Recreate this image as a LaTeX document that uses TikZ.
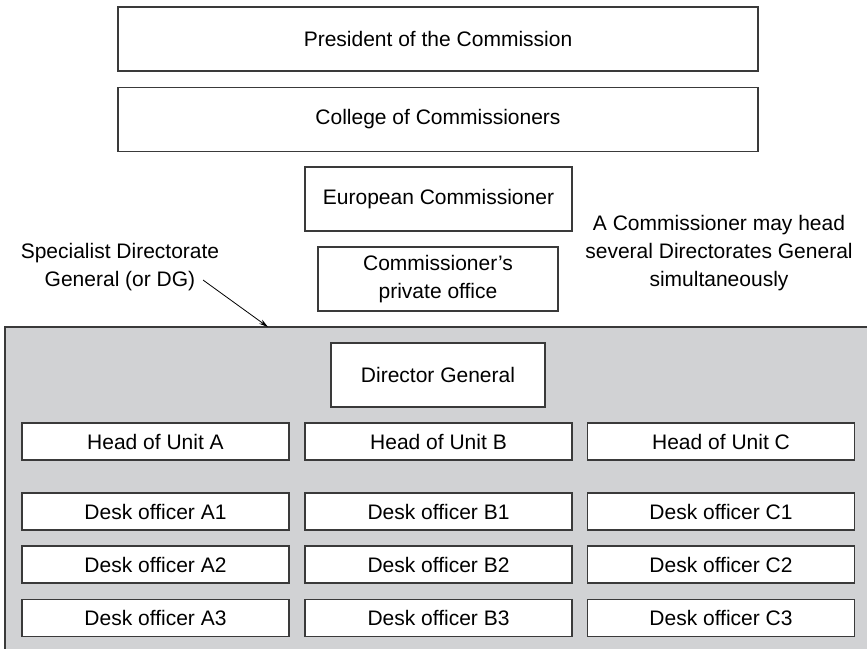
\documentclass[tikz,border=0pt]{standalone}
\usepackage{fontspec}
\setmainfont{Liberation Sans}
\usetikzlibrary{arrows.meta}
\definecolor{dgfill}{HTML}{D1D2D4}
\definecolor{boxline}{HTML}{3A3A3A}
\begin{document}
\begin{tikzpicture}[x=1pt,y=1pt,yscale=-1,xscale=1,
  txt/.style={font=\fontsize{21}{28}\selectfont, align=center, inner sep=0pt},
  box/.style={txt, draw=boxline, line width=1.1pt, fill=white},
  wide/.style={box, minimum width=640pt, minimum height=64pt},
  unit/.style={box, minimum width=267pt, minimum height=37pt}]
\useasboundingbox (0,0) rectangle (867,648);

%Shape: Rectangle [id:dgbox] 
\node [draw=boxline, fill=dgfill, line width=1.1pt, inner sep=0pt, minimum width=865pt, minimum height=325pt] (dgbox) at (437.5,489.5) {};

%Shape: Rectangle [id:pres] 
\node [wide] (pres) at (438,39) {President of the Commission};
%Shape: Rectangle [id:coll] 
\node [wide] (coll) at (438,119.5) {College of Commissioners};
%Shape: Rectangle [id:euro] 
\node [box, minimum width=267pt, minimum height=64pt] (euro) at (438.5,199) {European Commissioner};
%Shape: Rectangle [id:priv] 
\node [box, minimum width=240pt, minimum height=64pt] (priv) at (438,279) {Commissioner's\\private office};

% Text Node
\node [txt] (spec) at (120,267) {Specialist Directorate\\General (or DG)};
% Text Node
\node [txt] (note) at (719,253) {A Commissioner may head\\several Directorates General\\simultaneously};

%Straight Lines [id:arrow] 
\coordinate (spectail) at (203,280);
\coordinate (dgtip) at (268,327);
\draw [-{Stealth[length=9pt,width=5pt]}, line width=0.8pt] (spectail) -- (dgtip);

%Shape: Rectangle [id:dirg] 
\node [box, minimum width=214pt, minimum height=64pt] (dirg) at (438,375) {Director General};

%Shape: Rectangle [id:heads] 
\node [unit] (headA) at (155.5,441.5) {Head of Unit A};
\node [unit] (headB) at (438.5,441.5) {Head of Unit B};
\node [unit] (headC) at (721,441.5) {Head of Unit C};

%Shape: Rectangle [id:desk1] 
\node [unit] (deskA1) at (155.5,511.5) {Desk officer A1};
\node [unit] (deskB1) at (438.5,511.5) {Desk officer B1};
\node [unit] (deskC1) at (721,511.5) {Desk officer C1};
%Shape: Rectangle [id:desk2] 
\node [unit] (deskA2) at (155.5,564.5) {Desk officer A2};
\node [unit] (deskB2) at (438.5,564.5) {Desk officer B2};
\node [unit] (deskC2) at (721,564.5) {Desk officer C2};
%Shape: Rectangle [id:desk3] 
\node [unit] (deskA3) at (155.5,618) {Desk officer A3};
\node [unit] (deskB3) at (438.5,618) {Desk officer B3};
\node [unit] (deskC3) at (721,618) {Desk officer C3};

\end{tikzpicture}
\end{document}
